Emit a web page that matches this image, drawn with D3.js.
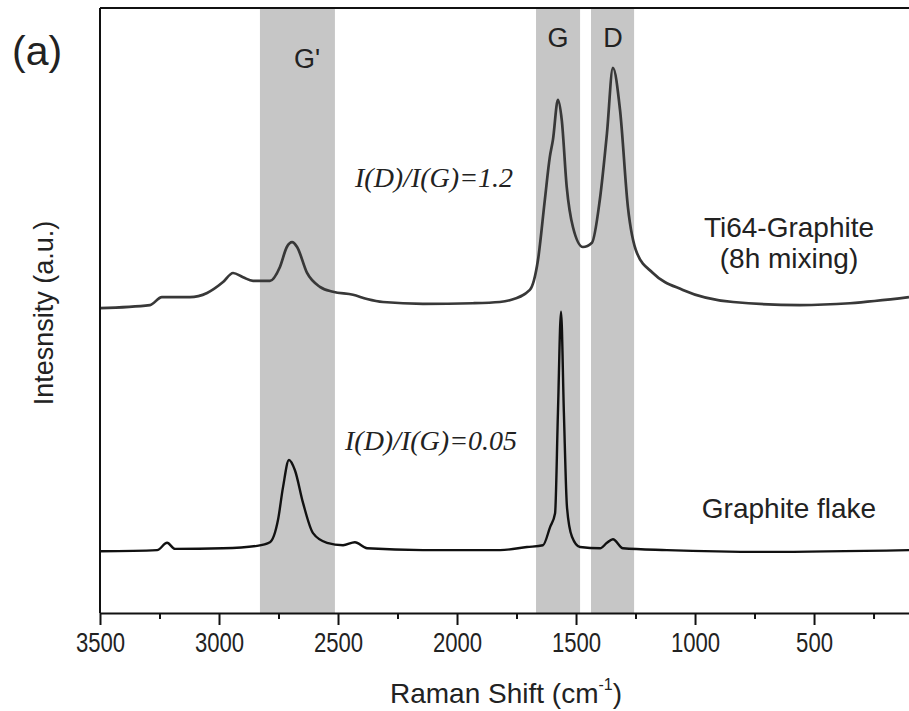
<!DOCTYPE html>
<html>
<head>
<meta charset="utf-8">
<script src="https://cdn.jsdelivr.net/npm/d3@7"></script>
<style>
  body { margin: 0; background: #fff; }
  svg { display: block; }
</style>
</head>
<body>
<div id="chart"></div>
<script>
// Raman shift (cm-1)
const xTicks = [3500, 3000, 2500, 2000, 1500, 1000, 500]
const xMinorTicks = [3250, 2750, 2250, 1750, 1250, 750, 250]

// shaded bands [from, to] and their labels
const bands = [[2828, 2513], [1668, 1483], [1437, 1256]]
const bandLabels = [
  { text: "G'", shift: 2630 },
  { text: "G", shift: 1576 },
  { text: "D", shift: 1345 },
]

// Ti64-Graphite (8h mixing) spectrum, shift / intensity (a.u., offset)
const tiShift = [3500, 3290, 3240, 3122, 3050, 2983, 2941, 2899, 2857, 2786, 2744, 2715, 2693,
  2672, 2630, 2576, 2521, 2437, 2378, 2311, 2143, 1933, 1820, 1778, 1694, 1660, 1631, 1610,
  1597, 1576, 1560, 1539, 1513, 1471, 1433, 1400, 1370, 1345, 1315, 1282, 1244, 1177, 1051,
  840, 559, 349, 101]
const tiIntensity = [50.4, 50.9, 52.2, 52.2, 52.9, 54.7, 56.2, 55.5, 54.9, 54.9, 57.2, 60.5, 61.3,
  60.5, 56.2, 53.9, 53.1, 52.6, 51.9, 51.4, 51.1, 51.2, 51.4, 51.7, 53.4, 58.3, 68.3, 75.4,
  78.2, 84.8, 81.5, 70.4, 63.8, 60.5, 61.2, 68.3, 79.3, 90.1, 83.1, 67.1, 59.5, 56.2, 53.4,
  51.4, 50.9, 51.2, 52.2]

// Graphite flake spectrum
const gfShift = [3500, 3260, 3218, 3185, 2983, 2840, 2786, 2752, 2731, 2706, 2681, 2647, 2605,
  2546, 2479, 2429, 2378, 2143, 1819, 1706, 1639, 1609, 1588, 1576, 1563, 1551, 1538, 1517,
  1483, 1399, 1370, 1345, 1303, 1118, 697, 101]
const gfIntensity = [10.2, 10.4, 11.6, 10.6, 10.7, 11.1, 11.7, 15.4, 20.8, 25.3, 23.6, 18.2, 13.2,
  11.6, 11.2, 11.7, 10.7, 10.4, 10.4, 10.9, 11.2, 14.2, 16.5, 33.1, 49.8, 33.1, 17.5, 12.6,
  10.9, 10.7, 11.6, 12.2, 10.7, 10.4, 10.1, 10.4]

const width = 909
const height = 711
const plotLeft = 100
const plotRight = 909
const plotTop = 8
const plotBottom = 613

const svg = d3
  .select("#chart")
  .append("svg")
  .attr("width", width)
  .attr("height", height)

const xScale = d3.scaleLinear().domain([3500, 101]).range([plotLeft, plotRight])
const yScale = d3.scaleLinear().domain([0, 100]).range([plotBottom, plotTop])

// gray bands behind the spectra
svg
  .selectAll("rect.band")
  .data(bands)
  .enter()
  .append("rect")
  .attr("class", "band")
  .attr("x", d => xScale(d[0]))
  .attr("y", plotTop)
  .attr("width", d => xScale(d[1]) - xScale(d[0]))
  .attr("height", plotBottom - plotTop)
  .attr("fill", "#c6c6c6")

const line = d3
  .line()
  .x(d => xScale(d[0]))
  .y(d => yScale(d[1]))
  .curve(d3.curveMonotoneX)

const spectra = [
  { pts: d3.zip(tiShift, tiIntensity), color: "#383838", w: 2.7 },
  { pts: d3.zip(gfShift, gfIntensity), color: "#111", w: 2.4 },
]

svg
  .selectAll("path.spectrum")
  .data(spectra)
  .enter()
  .append("path")
  .attr("class", "spectrum")
  .attr("d", d => line(d.pts))
  .attr("fill", "none")
  .attr("stroke", d => d.color)
  .attr("stroke-width", d => d.w)
  .attr("stroke-linejoin", "round")

// frame: left and top lines (right side is cropped in the original)
svg.append("line")
  .attr("x1", plotLeft).attr("x2", plotLeft).attr("y1", plotTop).attr("y2", plotBottom)
  .attr("stroke", "#111").attr("stroke-width", 2)
svg.append("line")
  .attr("x1", plotLeft).attr("x2", plotRight).attr("y1", plotTop).attr("y2", plotTop)
  .attr("stroke", "#111").attr("stroke-width", 2)

// x axis
const xAxis = d3.axisBottom(xScale)
  .tickValues(xTicks)
  .tickSize(12)
  .tickSizeOuter(0)
  .tickPadding(8)
  .tickFormat(d3.format("d"))

const gx = svg
  .append("g")
  .attr("transform", `translate(0, ${plotBottom})`)
  .call(xAxis)
gx.select(".domain").attr("stroke", "#111").attr("stroke-width", 2)
gx.selectAll(".tick line").attr("stroke", "#111").attr("stroke-width", 2)
// labels in the original are a narrow face, so squeeze them
gx.selectAll(".tick text")
  .attr("fill", "#222")
  .attr("textLength", d => String(d).length * 12.3)
  .attr("lengthAdjust", "spacingAndGlyphs")
  .style("font-family", "'Liberation Sans', Arial, sans-serif")
  .style("font-size", "27px")

const gMinor = svg
  .append("g")
  .attr("transform", `translate(0, ${plotBottom})`)
  .call(d3.axisBottom(xScale).tickValues(xMinorTicks).tickSize(6).tickFormat(""))
gMinor.select(".domain").remove()
gMinor.selectAll(".tick line").attr("stroke", "#111").attr("stroke-width", 2)

const sans = "'Liberation Sans', Arial, sans-serif"

// band labels
svg
  .selectAll("text.bandLabel")
  .data(bandLabels)
  .enter()
  .append("text")
  .attr("class", "bandLabel")
  .attr("x", d => xScale(d.shift))
  .attr("y", d => (d.text === "G'" ? 68 : 47))
  .attr("text-anchor", "middle")
  .style("font-family", sans)
  .style("font-size", "27px")
  .attr("fill", "#222")
  .text(d => d.text)

// ratio annotations
const ratios = [
  { text: "I(D)/I(G)=1.2", x: 355, y: 187 },
  { text: "I(D)/I(G)=0.05", x: 345, y: 450 },
]
svg
  .selectAll("text.ratio")
  .data(ratios)
  .enter()
  .append("text")
  .attr("class", "ratio")
  .attr("x", d => d.x)
  .attr("y", d => d.y)
  .style("font-family", "'Liberation Serif', 'Times New Roman', serif")
  .style("font-style", "italic")
  .style("font-size", "28px")
  .attr("fill", "#222")
  .text(d => d.text)

// sample names
const names = [
  { text: "Ti64-Graphite", y: 237 },
  { text: "(8h mixing)", y: 268 },
  { text: "Graphite flake", y: 518 },
]
svg
  .selectAll("text.name")
  .data(names)
  .enter()
  .append("text")
  .attr("class", "name")
  .attr("x", 789)
  .attr("y", d => d.y)
  .attr("text-anchor", "middle")
  .style("font-family", sans)
  .style("font-size", "28px")
  .attr("fill", "#222")
  .text(d => d.text)

// panel tag
svg.append("text")
  .attr("x", 12)
  .attr("y", 65)
  .style("font-family", sans)
  .style("font-size", "41px")
  .attr("fill", "#222")
  .text("(a)")

// axis titles
svg.append("text")
  .attr("transform", "translate(53, 313) rotate(-90)")
  .attr("text-anchor", "middle")
  .style("font-family", sans)
  .style("font-size", "27px")
  .attr("fill", "#222")
  .text("Intesnsity (a.u.)")

const xTitle = svg.append("text")
  .attr("x", 506)
  .attr("y", 703)
  .attr("text-anchor", "middle")
  .style("font-family", sans)
  .style("font-size", "28px")
  .attr("fill", "#222")
xTitle.append("tspan").text("Raman Shift (cm")
xTitle.append("tspan").attr("dy", -13).style("font-size", "16px").text("-1")
xTitle.append("tspan").attr("dy", 13).text(")")
</script>
</body>
</html>
